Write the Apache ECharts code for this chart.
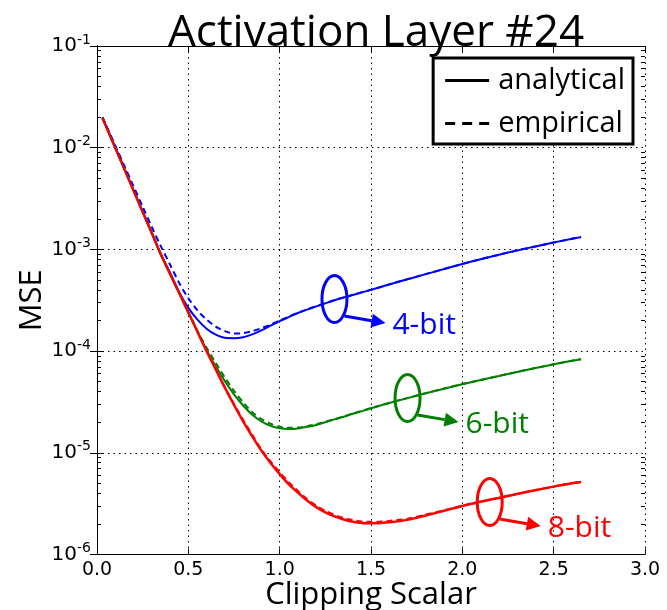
<!DOCTYPE html>
<html>
<head>
<meta charset="utf-8">
<title>Activation Layer #24</title>
<script src="https://cdn.jsdelivr.net/npm/echarts@6/dist/echarts.min.js"></script>
<style>
  html, body { margin: 0; padding: 0; background: #fff; }
  #chart { width: 667px; height: 610px; }
</style>
</head>
<body>
<div id="chart"></div>
<script>
// clipping scalar (x) and MSE
var clipX = [0.03, 0.05, 0.1, 0.15, 0.2, 0.25, 0.3, 0.35, 0.4, 0.45, 0.5, 0.55, 0.6, 0.65, 0.7, 0.75,
  0.8, 0.85, 0.9, 0.95, 1.0, 1.05, 1.1, 1.15, 1.2, 1.25, 1.3, 1.35, 1.4, 1.45, 1.5, 1.55, 1.6, 1.7,
  1.8, 1.9, 2.0, 2.1, 2.2, 2.3, 2.4, 2.5, 2.6, 2.65];

var mse4Ana = [1.95e-2, 1.62e-2, 1.00e-2, 6.17e-3, 3.80e-3, 2.34e-3, 1.45e-3, 8.91e-4, 5.89e-4, 3.80e-4,
  2.66e-4, 2.04e-4, 1.66e-4, 1.45e-4, 1.35e-4, 1.34e-4, 1.37e-4, 1.46e-4, 1.60e-4, 1.78e-4, 1.97e-4,
  2.16e-4, 2.37e-4, 2.56e-4, 2.75e-4, 2.95e-4, 3.16e-4, 3.36e-4, 3.56e-4, 3.78e-4, 4.00e-4, 4.25e-4,
  4.52e-4, 5.09e-4, 5.71e-4, 6.41e-4, 7.19e-4, 8.00e-4, 8.85e-4, 9.77e-4, 1.07e-3, 1.17e-3, 1.27e-3, 1.32e-3];
var mse4Emp = [2.00e-2, 1.66e-2, 1.05e-2, 6.61e-3, 4.17e-3, 2.63e-3, 1.66e-3, 1.07e-3, 7.08e-4, 4.68e-4,
  3.31e-4, 2.51e-4, 2.04e-4, 1.74e-4, 1.57e-4, 1.49e-4, 1.50e-4, 1.57e-4, 1.68e-4, 1.82e-4, 2.00e-4,
  2.18e-4, 2.38e-4, 2.57e-4, 2.76e-4, 2.96e-4, 3.17e-4, 3.37e-4, 3.57e-4, 3.79e-4, 4.01e-4, 4.26e-4,
  4.53e-4, 5.10e-4, 5.72e-4, 6.42e-4, 7.20e-4, 8.01e-4, 8.86e-4, 9.78e-4, 1.07e-3, 1.17e-3, 1.27e-3, 1.32e-3];

var mse6Ana = [1.95e-2, 1.62e-2, 1.00e-2, 6.17e-3, 3.80e-3, 2.34e-3, 1.45e-3, 8.91e-4, 5.75e-4, 3.72e-4,
  2.40e-4, 1.55e-4, 1.02e-4, 7.08e-5, 5.07e-5, 3.76e-5, 2.92e-5, 2.37e-5, 2.04e-5, 1.84e-5, 1.74e-5,
  1.71e-5, 1.73e-5, 1.80e-5, 1.88e-5, 2.00e-5, 2.13e-5, 2.26e-5, 2.42e-5, 2.57e-5, 2.74e-5, 2.91e-5,
  3.09e-5, 3.45e-5, 3.85e-5, 4.27e-5, 4.73e-5, 5.19e-5, 5.69e-5, 6.24e-5, 6.81e-5, 7.41e-5, 8.04e-5, 8.32e-5];
var mse6Emp = [1.95e-2, 1.62e-2, 1.00e-2, 6.17e-3, 3.80e-3, 2.34e-3, 1.45e-3, 8.91e-4, 5.75e-4, 3.72e-4,
  2.42e-4, 1.58e-4, 1.08e-4, 7.67e-5, 5.50e-5, 4.07e-5, 3.13e-5, 2.51e-5, 2.15e-5, 1.93e-5, 1.80e-5,
  1.76e-5, 1.77e-5, 1.83e-5, 1.91e-5, 2.02e-5, 2.14e-5, 2.27e-5, 2.43e-5, 2.58e-5, 2.75e-5, 2.92e-5,
  3.10e-5, 3.46e-5, 3.86e-5, 4.28e-5, 4.74e-5, 5.20e-5, 5.70e-5, 6.25e-5, 6.82e-5, 7.42e-5, 8.05e-5, 8.33e-5];

var mse8Ana = [1.95e-2, 1.62e-2, 1.00e-2, 6.17e-3, 3.80e-3, 2.34e-3, 1.45e-3, 8.91e-4, 5.75e-4, 3.72e-4,
  2.40e-4, 1.55e-4, 1.00e-4, 6.61e-5, 4.37e-5, 2.95e-5, 2.04e-5, 1.45e-5, 1.05e-5, 7.94e-6, 6.17e-6,
  4.90e-6, 4.07e-6, 3.39e-6, 2.92e-6, 2.60e-6, 2.37e-6, 2.21e-6, 2.10e-6, 2.04e-6, 2.03e-6, 2.04e-6,
  2.07e-6, 2.19e-6, 2.42e-6, 2.69e-6, 3.00e-6, 3.30e-6, 3.60e-6, 3.94e-6, 4.29e-6, 4.65e-6, 5.01e-6, 5.16e-6];
var mse8Emp = [1.95e-2, 1.62e-2, 1.00e-2, 6.17e-3, 3.80e-3, 2.34e-3, 1.45e-3, 8.91e-4, 5.75e-4, 3.72e-4,
  2.40e-4, 1.55e-4, 1.00e-4, 6.65e-5, 4.42e-5, 3.02e-5, 2.11e-5, 1.50e-5, 1.08e-5, 8.22e-6, 6.46e-6,
  5.13e-6, 4.22e-6, 3.51e-6, 3.02e-6, 2.69e-6, 2.45e-6, 2.29e-6, 2.18e-6, 2.11e-6, 2.10e-6, 2.11e-6,
  2.14e-6, 2.25e-6, 2.47e-6, 2.72e-6, 3.02e-6, 3.31e-6, 3.61e-6, 3.95e-6, 4.30e-6, 4.66e-6, 5.02e-6, 5.17e-6];

// annotations: ellipse centre on each curve + label
var bitLabels = ['4-bit', '6-bit', '8-bit'];
var bitColors = ['#0000ff', '#008000', '#ff0000'];
var markX = [1.30, 1.70, 2.15];
var markY = [3.25e-4, 3.46e-5, 3.28e-6];

var LABEL_FONT = 'Open Sans';
var TICK_FONT = 'DejaVu Sans';

function zip(xs, ys) {
  var out = [];
  for (var i = 0; i < xs.length; i++) out.push([xs[i], ys[i]]);
  return out;
}

// minor ticks of the log axis (2..9 per decade)
var yMinor = [];
for (var d = -6; d < -1; d++) {
  for (var m = 2; m <= 9; m++) yMinor.push(m * Math.pow(10, d));
}

var chart = echarts.init(document.getElementById('chart'));

function curve(name, data, color, dashed, width) {
  return {
    name: name,
    type: 'line',
    data: data,
    showSymbol: false,
    symbol: 'none',
    smooth: 0.3,
    silent: true,
    animation: false,
    lineStyle: { color: color, width: width || 2, type: dashed ? [6, 4] : 'solid' },
    itemStyle: { color: color },
    xAxisIndex: 0,
    yAxisIndex: 0,
    z: dashed ? 3 : 2
  };
}

function logAxis(gridIndex, extra) {
  return Object.assign({
    type: 'log',
    logBase: 10,
    min: 1e-6,
    max: 1e-1,
    gridIndex: gridIndex
  }, extra);
}

var gridBox = { left: 97, right: 22, top: 46, bottom: 55.5, containLabel: false, outerBoundsMode: 'none' };

var option = {
  backgroundColor: '#fff',
  animation: false,
  title: {
    text: 'Activation Layer #24',
    left: 163,
    top: 6,
    textStyle: { fontFamily: LABEL_FONT, fontSize: 44, fontWeight: 'normal', color: '#000' }
  },
  legend: {
    data: [
      { name: 'analytical', icon: 'path://M0,0H44V3H0Z' },
      { name: 'empirical', icon: 'path://M0,0H10V3H0Z M17,0H27V3H17Z M34,0H44V3H34Z' }
    ],
    orient: 'vertical',
    right: 34,
    top: 58,
    padding: [8, 8, 6, 12],
    itemGap: 14,
    itemWidth: 44,
    itemHeight: 3,
    backgroundColor: '#fff',
    borderColor: '#000',
    borderWidth: 3,
    borderRadius: 0,
    selectedMode: false,
    itemStyle: { color: '#000' },
    textStyle: { fontFamily: LABEL_FONT, fontSize: 29, color: '#000', padding: [0, 0, 0, 4] }
  },
  // grid 1 has the same box and only carries the minor ticks of the log axis
  grid: [Object.assign({}, gridBox), Object.assign({}, gridBox)],
  xAxis: [{
    type: 'value',
    gridIndex: 0,
    min: 0,
    max: 3,
    interval: 0.5,
    name: 'Clipping Scalar',
    nameLocation: 'middle',
    nameGap: 25,
    nameMoveOverlap: false,
    nameTextStyle: { fontFamily: LABEL_FONT, fontSize: 31, color: '#000' },
    axisLine: { show: true, onZero: false, lineStyle: { color: '#000', width: 1 } },
    axisTick: { show: true, inside: true, length: 6, lineStyle: { color: '#000' } },
    axisLabel: {
      fontFamily: TICK_FONT, fontSize: 19, color: '#000', margin: 6,
      formatter: function (v) { return v.toFixed(1); }
    },
    splitLine: { show: true, lineStyle: { color: '#000', width: 1, type: [1.5, 4] } }
  }, {
    type: 'value',
    gridIndex: 0,
    min: 0,
    max: 3,
    interval: 0.5,
    position: 'top',
    axisLine: { show: true, onZero: false, lineStyle: { color: '#000', width: 1 } },
    axisTick: { show: true, inside: true, length: 6, lineStyle: { color: '#000' } },
    axisLabel: { show: false },
    splitLine: { show: false }
  }, {
    type: 'value',
    gridIndex: 1,
    min: 0,
    max: 3,
    show: false
  }],
  yAxis: [
    logAxis(0, {
      position: 'left',
      name: 'MSE',
      nameLocation: 'middle',
      nameGap: 49,
      nameMoveOverlap: false,
      nameTextStyle: { fontFamily: LABEL_FONT, fontSize: 31, color: '#000' },
      axisLine: { show: true, lineStyle: { color: '#000', width: 1 } },
      axisTick: { show: true, inside: true, length: 7, lineStyle: { color: '#000' } },
      axisLabel: {
        margin: 6,
        formatter: function (v) {
          var e = Math.round(Math.log(v) / Math.LN10);
          return '{b|10}{s|' + e + '}';
        },
        rich: {
          b: { fontFamily: TICK_FONT, fontSize: 20, color: '#000' },
          s: { fontFamily: TICK_FONT, fontSize: 14, color: '#000', padding: [0, 0, 12, 0] }
        }
      },
      splitLine: { show: true, lineStyle: { color: '#000', width: 1, type: [1.5, 4] } }
    }),
    logAxis(0, {
      position: 'right',
      axisLine: { show: true, lineStyle: { color: '#000', width: 1 } },
      axisTick: { show: true, inside: true, length: 7, lineStyle: { color: '#000' } },
      axisLabel: { show: false },
      splitLine: { show: false }
    }),
    logAxis(1, {
      position: 'left',
      axisLine: { show: false },
      axisTick: { show: true, inside: true, length: 4, customValues: yMinor, lineStyle: { color: '#000' } },
      axisLabel: { show: false },
      splitLine: { show: false }
    }),
    logAxis(1, {
      position: 'right',
      axisLine: { show: false },
      axisTick: { show: true, inside: true, length: 4, customValues: yMinor, lineStyle: { color: '#000' } },
      axisLabel: { show: false },
      splitLine: { show: false }
    })
  ],
  series: [
    curve('4-bit analytical', zip(clipX, mse4Ana), bitColors[0], false, 2),
    curve('4-bit empirical', zip(clipX, mse4Emp), bitColors[0], true, 2),
    curve('6-bit analytical', zip(clipX, mse6Ana), bitColors[1], false, 2),
    curve('6-bit empirical', zip(clipX, mse6Emp), bitColors[1], true, 2),
    curve('8-bit analytical', zip(clipX, mse8Ana), bitColors[2], false, 2.5),
    curve('8-bit empirical', zip(clipX, mse8Emp), bitColors[2], true, 2),
    // legend-only entries
    curve('analytical', [], '#000', false, 3),
    curve('empirical', [], '#000', true, 3)
  ]
};

chart.setOption(option);

// ellipse + arrow + label for each bit width, placed at a point of its curve
var marks = [];
for (var i = 0; i < bitLabels.length; i++) {
  var c = chart.convertToPixel({ xAxisIndex: 0, yAxisIndex: 0 }, [markX[i], markY[i]]);
  var col = bitColors[i];
  var sx = c[0] + 10, sy = c[1] + 17;
  var tx = c[0] + 51, ty = c[1] + 24;
  var dx = tx - sx, dy = ty - sy;
  var len = Math.sqrt(dx * dx + dy * dy);
  var ux = dx / len, uy = dy / len;
  var bx = tx - 14 * ux, by = ty - 14 * uy;
  marks.push({
    type: 'ellipse',
    shape: { cx: c[0], cy: c[1], rx: 12.5, ry: 23.5 },
    style: { fill: 'none', stroke: col, lineWidth: 3 },
    z: 10
  });
  marks.push({
    type: 'line',
    shape: { x1: sx, y1: sy, x2: bx, y2: by },
    style: { stroke: col, lineWidth: 3 },
    z: 10
  });
  marks.push({
    type: 'polygon',
    shape: { points: [[tx, ty], [bx - 7 * uy, by + 7 * ux], [bx + 7 * uy, by - 7 * ux]] },
    style: { fill: col },
    z: 10
  });
  marks.push({
    type: 'text',
    x: c[0] + 58,
    y: c[1] + 26,
    style: {
      text: bitLabels[i],
      fill: col,
      font: '30px "Open Sans"',
      verticalAlign: 'middle'
    },
    z: 10
  });
}
chart.setOption({ graphic: marks });
</script>
</body>
</html>
